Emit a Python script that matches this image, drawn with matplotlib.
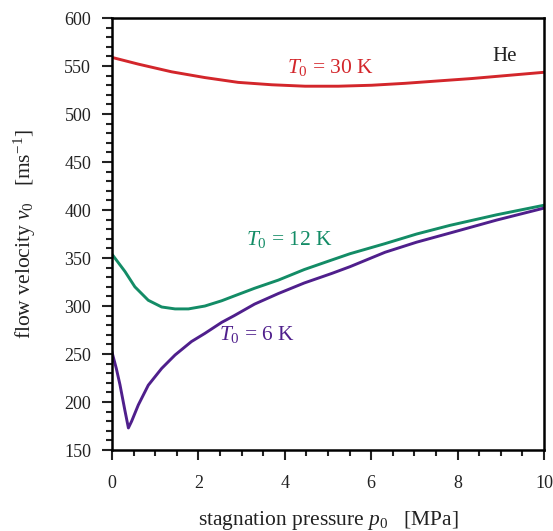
import matplotlib
matplotlib.use("Agg")
import matplotlib.pyplot as plt
from matplotlib.ticker import MultipleLocator

plt.rcParams['font.family'] = ['Liberation Serif', 'DejaVu Serif']
plt.rcParams['mathtext.fontset'] = 'custom'
plt.rcParams['mathtext.rm'] = 'Liberation Serif'
plt.rcParams['mathtext.it'] = 'Liberation Serif:italic'

# data
p_30 = [0, 0.61, 1.38, 2.15, 2.92, 3.70, 4.47, 5.24, 6.01, 6.78, 7.55, 8.33, 9.10, 10.0]
v_30 = [559, 552, 544, 538, 533, 530.5, 529, 529, 530, 532, 534.5, 537, 540, 543.5]

p_12 = [0, 0.15, 0.30, 0.53, 0.84, 1.15, 1.46, 1.77, 2.15, 2.54, 2.83, 3.3, 3.85,
        4.45, 5.09, 5.51, 6.32, 7.05, 7.82, 8.9, 10.0]
v_12 = [354, 345, 336, 320, 306, 299, 297, 297, 300, 305.5, 310.5, 318.5, 327,
        338, 348, 354.5, 365, 375, 384, 395, 405]

p_6 = [0, 0.10, 0.185, 0.30, 0.38, 0.455, 0.61, 0.84, 1.15, 1.46, 1.84, 2.15,
       2.54, 2.83, 3.3, 3.85, 4.45, 5.09, 5.51, 6.32, 7.05, 7.82, 8.9, 10.0]
v_6 = [252, 235, 218, 191, 173, 180, 197, 217.5, 235, 249, 263, 271.5,
       283, 290, 302, 313, 324, 334, 341, 356, 366.5, 376, 389.5, 402]

c_red = '#d3262b'
c_green = '#138c66'
c_purple = '#4f1f8c'

fig = plt.figure(figsize=(5.53, 5.31), dpi=100)
ax = fig.add_axes([0.2025, 0.1525, 0.7812, 0.8135])

ax.plot(p_30, v_30, color=c_red, lw=2.1, solid_joinstyle='round')
ax.plot(p_12, v_12, color=c_green, lw=2.1, solid_joinstyle='round')
ax.plot(p_6, v_6, color=c_purple, lw=2.1, solid_joinstyle='round')

ax.set_xlim(0, 10)
ax.set_ylim(150, 600)
ax.xaxis.set_major_locator(MultipleLocator(2))
ax.xaxis.set_minor_locator(MultipleLocator(0.5))
ax.yaxis.set_major_locator(MultipleLocator(50))
ax.yaxis.set_minor_locator(MultipleLocator(10))
ax.tick_params(which='both', direction='out', top=False, right=False, width=1.5,
               labelsize=13, colors='#222222')
ax.tick_params(which='major', length=7)
ax.tick_params(which='minor', length=4)
ax.tick_params(axis='x', which='major', pad=11)
ax.tick_params(axis='y', which='major', pad=8)
for s in ax.spines.values():
    s.set_linewidth(1.8)

ax.set_xlabel(r'stagnation pressure $p_0$   [MPa]', fontsize=15.5, labelpad=12, color='#222222')
ax.set_ylabel(r'flow velocity $v_0$   [ms$^{\mathrm{-1}}$]', fontsize=15.5, labelpad=19, color='#222222')

ax.text(5.05, 548, r'$T_0$ = 30 K', color=c_red, fontsize=15.5, ha='center', va='center')
ax.text(9.1, 560, r'He', color='#222222', fontsize=15, ha='center', va='center')
ax.text(4.12, 369, r'$T_0$ = 12 K', color=c_green, fontsize=15.5, ha='center', va='center')
ax.text(3.35, 270, r'$T_0$ = 6 K', color=c_purple, fontsize=15.5, ha='center', va='center')

fig.savefig('out.png', dpi=100)
